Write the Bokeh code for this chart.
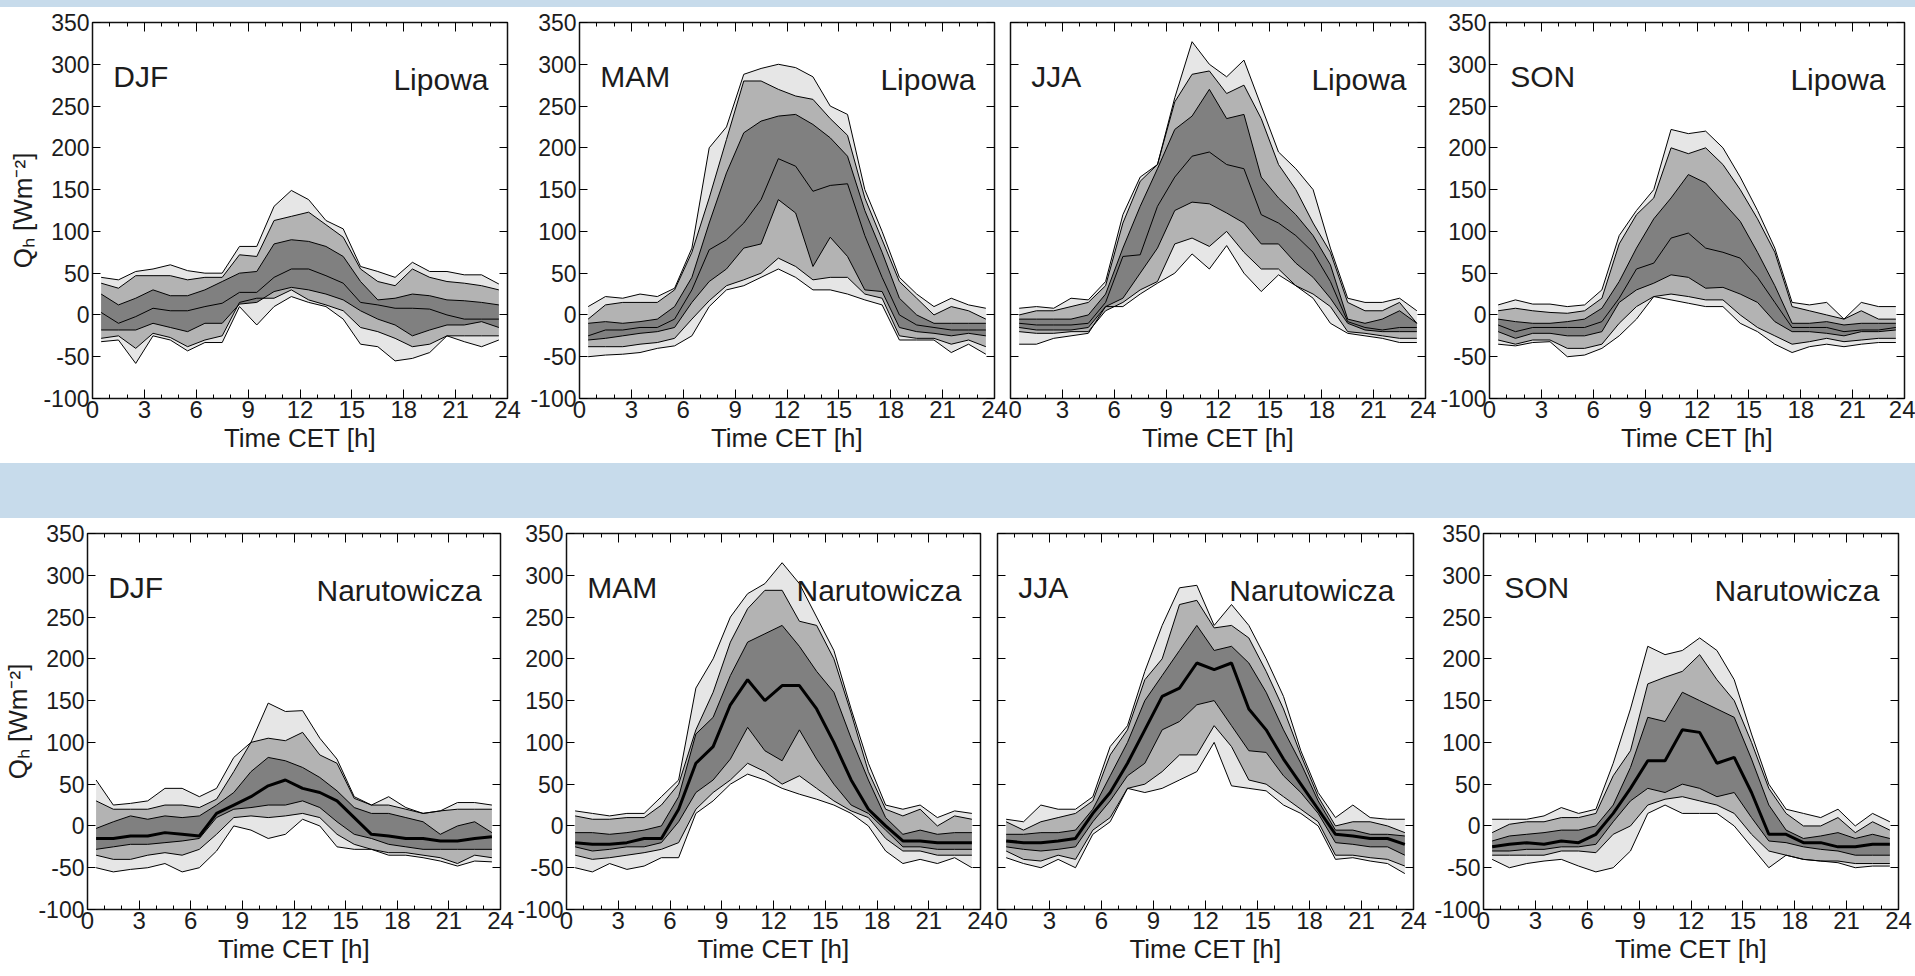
from bokeh.plotting import figure
from bokeh.layouts import row, column
from bokeh.models import Spacer, FixedTicker, LinearAxis, Label, Range1d
from bokeh.embed import file_html
from bokeh.resources import INLINE

# ---------------- data ----------------
hours = [0.5, 1.5, 2.5, 3.5, 4.5, 5.5, 6.5, 7.5, 8.5, 9.5, 10.5, 11.5,
         12.5, 13.5, 14.5, 15.5, 16.5, 17.5, 18.5, 19.5, 20.5, 21.5, 22.5, 23.5]
x_ticks = [0, 3, 6, 9, 12, 15, 18, 21, 24]
y_ticks = [-100, -50, 0, 50, 100, 150, 200, 250, 300, 350]
y_tick_labels = ["-100", "-50", "0", "50", "100", "150", "200", "250", "300", "350"]
seasons = ["DJF", "MAM", "JJA", "SON"]
sites = ["Lipowa", "Narutowicza"]

# Lipowa DJF (q0 lowest envelope ... q6 highest envelope, q3 median)
lip_djf_q6 = [45, 42, 52, 55, 60, 53, 50, 50, 82, 82, 130, 149, 138, 113, 103, 58, 52, 45, 63, 52, 52, 48, 48, 37]
lip_djf_q5 = [38, 32, 47, 47, 47, 42, 45, 45, 72, 70, 113, 118, 123, 108, 93, 55, 40, 35, 55, 45, 40, 38, 35, 30]
lip_djf_q4 = [25, 12, 20, 30, 23, 23, 30, 40, 50, 52, 85, 90, 88, 82, 70, 40, 18, 20, 25, 23, 18, 17, 15, 12]
lip_djf_q3 = [3, -10, -2, 8, 5, 5, 10, 14, 27, 27, 45, 55, 55, 47, 38, 15, 12, 8, 8, 7, 0, -5, -5, -5]
lip_djf_q2 = [-18, -18, -18, -10, -15, -20, -10, -10, 13, 15, 28, 33, 30, 25, 18, 5, -5, -12, -25, -18, -12, -12, -8, -15]
lip_djf_q1 = [-28, -25, -40, -22, -27, -38, -30, -25, 15, 20, 20, 30, 18, 12, 5, -15, -20, -28, -38, -35, -25, -25, -25, -25]
lip_djf_q0 = [-32, -30, -58, -25, -30, -43, -33, -33, 10, -12, 10, 22, 15, 10, -5, -35, -38, -55, -52, -45, -25, -32, -38, -30]

# Lipowa MAM
lip_mam_q6 = [10, 22, 20, 25, 22, 32, 80, 200, 225, 288, 295, 300, 296, 285, 250, 240, 150, 100, 45, 25, 10, 20, 12, 8]
lip_mam_q5 = [-5, 12, 15, 15, 15, 30, 75, 140, 210, 280, 280, 270, 262, 258, 235, 215, 140, 90, 40, 20, 0, 10, 5, -5]
lip_mam_q4 = [-10, -8, -10, -8, -5, 10, 45, 110, 170, 218, 232, 238, 240, 228, 212, 190, 125, 75, 20, 0, -10, -10, -10, -10]
lip_mam_q3 = [-25, -18, -18, -15, -15, -5, 30, 78, 90, 110, 138, 187, 178, 148, 155, 157, 95, 45, 0, -12, -15, -18, -18, -18]
lip_mam_q2 = [-30, -28, -25, -22, -20, -15, 15, 40, 55, 80, 85, 138, 122, 58, 93, 70, 30, 28, -15, -20, -22, -25, -22, -25]
lip_mam_q1 = [-38, -38, -38, -35, -33, -28, -5, 17, 35, 42, 50, 68, 58, 42, 45, 45, 25, 20, -25, -28, -28, -35, -30, -38]
lip_mam_q0 = [-50, -48, -47, -45, -40, -37, -25, 10, 30, 35, 45, 55, 45, 30, 30, 25, 18, 12, -30, -30, -30, -45, -35, -47]

# Lipowa JJA
lip_jja_q6 = [8, 10, 8, 20, 18, 40, 120, 165, 180, 260, 327, 300, 285, 305, 250, 195, 175, 150, 80, 20, 15, 15, 20, 5]
lip_jja_q5 = [0, 5, 5, 10, 15, 35, 110, 160, 180, 255, 288, 292, 265, 275, 235, 180, 150, 110, 75, 15, 5, 5, 15, -10]
lip_jja_q4 = [-5, -5, -5, -5, 0, 25, 80, 130, 175, 222, 238, 270, 235, 240, 165, 140, 120, 95, 60, -5, -10, -5, 5, -10]
lip_jja_q3 = [-10, -12, -12, -12, -10, 15, 70, 72, 130, 165, 190, 195, 180, 175, 120, 110, 95, 75, 40, -8, -15, -18, -15, -15]
lip_jja_q2 = [-15, -18, -18, -18, -15, 10, 20, 50, 80, 125, 135, 133, 122, 110, 85, 85, 62, 45, 20, -10, -18, -20, -20, -20]
lip_jja_q1 = [-20, -22, -22, -20, -20, 5, 15, 30, 40, 85, 92, 82, 100, 75, 55, 55, 35, 25, 10, -20, -22, -25, -28, -28]
lip_jja_q0 = [-35, -35, -28, -25, -22, 10, 10, 25, 38, 50, 73, 55, 83, 50, 28, 48, 35, 20, -10, -22, -25, -28, -33, -33]

# Lipowa SON
lip_son_q6 = [12, 18, 13, 13, 10, 12, 30, 95, 125, 150, 222, 217, 220, 200, 165, 125, 80, 15, 12, 15, -5, 15, 10, 10]
lip_son_q5 = [5, 8, 5, 3, 2, 5, 20, 85, 120, 140, 200, 193, 200, 180, 150, 115, 75, 10, 5, 0, -5, 5, -5, -5]
lip_son_q4 = [-5, -8, -10, -10, -8, -5, 8, 40, 80, 115, 140, 168, 158, 135, 112, 75, 35, -10, -10, -8, -12, -10, -10, -10]
lip_son_q3 = [-12, -20, -15, -15, -15, -15, -8, 20, 55, 62, 92, 98, 80, 75, 68, 45, 15, -15, -15, -15, -20, -18, -18, -15]
lip_son_q2 = [-20, -28, -22, -22, -25, -25, -20, 15, 30, 38, 48, 45, 32, 33, 25, 15, -8, -20, -20, -22, -25, -20, -20, -18]
lip_son_q1 = [-30, -35, -30, -30, -40, -40, -35, -10, 10, 22, 25, 22, 18, 18, 0, -15, -25, -35, -32, -28, -32, -30, -28, -28]
lip_son_q0 = [-35, -37, -33, -32, -50, -48, -40, -25, -5, 22, 18, 14, 10, 10, -10, -20, -35, -45, -38, -35, -38, -35, -33, -33]

# Narutowicza DJF
nar_djf_q6 = [55, 25, 27, 30, 45, 45, 35, 45, 82, 100, 147, 137, 138, 105, 80, 35, 25, 35, 22, 15, 18, 28, 28, 25]
nar_djf_q5 = [30, 20, 20, 20, 25, 25, 22, 32, 65, 100, 105, 102, 112, 85, 75, 33, 25, 25, 20, 15, 18, 20, 20, 20]
nar_djf_q4 = [-3, 5, 12, 8, 12, 10, 12, 25, 40, 65, 82, 78, 70, 58, 42, 22, 15, 15, 10, 5, -10, 0, 5, -8]
nar_djf_q3 = [-15, -15, -12, -12, -8, -10, -12, 15, 25, 35, 48, 55, 45, 40, 30, 10, -10, -12, -15, -15, -18, -18, -15, -13]
nar_djf_q2 = [-28, -25, -22, -22, -20, -18, -15, 10, 20, 22, 25, 25, 30, 22, 5, -10, -15, -22, -25, -28, -28, -28, -28, -28]
nar_djf_q1 = [-35, -40, -40, -35, -32, -35, -28, -10, 10, 12, 10, 12, 15, 10, -10, -22, -28, -32, -32, -35, -38, -45, -35, -38]
nar_djf_q0 = [-50, -55, -52, -50, -45, -55, -50, -30, 0, -5, -15, -10, 8, 0, -25, -28, -28, -35, -35, -38, -42, -48, -42, -43]

# Narutowicza MAM
nar_mam_q6 = [18, 15, 12, 15, 15, 35, 55, 165, 200, 250, 278, 290, 315, 290, 250, 210, 140, 75, 25, 20, 25, 10, 18, 15]
nar_mam_q5 = [12, 8, 8, 10, 10, 25, 50, 115, 160, 220, 260, 282, 282, 245, 240, 200, 135, 65, 20, 12, 20, 0, 12, 8]
nar_mam_q4 = [-8, -8, -10, -8, -5, 0, 35, 110, 130, 180, 220, 230, 240, 215, 185, 160, 105, 55, 10, -10, -5, -10, -8, -8]
nar_mam_q3 = [-20, -22, -22, -20, -15, -15, 20, 75, 95, 145, 175, 150, 168, 168, 140, 100, 55, 20, 0, -18, -18, -20, -20, -20]
nar_mam_q2 = [-25, -30, -28, -25, -25, -20, 5, 40, 55, 80, 118, 90, 78, 115, 80, 50, 25, 15, -5, -25, -25, -28, -28, -28]
nar_mam_q1 = [-35, -40, -38, -35, -32, -28, -20, 20, 40, 55, 75, 65, 50, 60, 45, 30, 18, 10, -15, -30, -30, -35, -35, -35]
nar_mam_q0 = [-50, -55, -45, -52, -48, -38, -38, 15, 30, 50, 62, 55, 45, 38, 32, 25, 15, 0, -30, -45, -40, -45, -38, -50]

# Narutowicza JJA
nar_jja_q6 = [8, 5, 25, 20, 20, 35, 95, 120, 185, 240, 285, 288, 240, 265, 240, 200, 155, 90, 40, 10, 25, 10, 8, 8]
nar_jja_q5 = [5, -5, 5, 10, 15, 30, 85, 115, 175, 200, 265, 270, 237, 240, 225, 185, 140, 85, 35, 0, 5, 5, 0, -8]
nar_jja_q4 = [-10, -10, -8, -8, -5, 20, 60, 100, 150, 180, 210, 240, 210, 215, 195, 160, 115, 75, 30, -5, -5, -10, -10, -12]
nar_jja_q3 = [-18, -20, -20, -18, -15, 15, 40, 75, 115, 155, 165, 195, 187, 195, 140, 115, 80, 50, 20, -10, -12, -15, -15, -22]
nar_jja_q2 = [-25, -28, -30, -28, -25, 5, 30, 60, 75, 115, 125, 145, 150, 120, 90, 88, 60, 40, 15, -20, -22, -25, -25, -35]
nar_jja_q1 = [-30, -40, -42, -35, -40, -5, 10, 45, 50, 65, 85, 85, 120, 95, 55, 50, 35, 20, 5, -35, -35, -38, -40, -48]
nar_jja_q0 = [-38, -45, -50, -40, -50, -10, 5, 45, 40, 45, 55, 65, 100, 48, 45, 42, 25, 15, 0, -40, -38, -42, -45, -57]

# Narutowicza SON
nar_son_q6 = [8, 8, 8, 12, 22, 15, 20, 75, 140, 215, 205, 210, 225, 210, 175, 110, 50, 20, 15, 10, 20, 0, 15, 5]
nar_son_q5 = [-8, 2, 5, 5, 10, 10, 15, 60, 90, 170, 178, 185, 205, 175, 150, 100, 45, 15, 0, 0, 10, -8, 5, -5]
nar_son_q4 = [-18, -12, -10, -8, -5, -5, 0, 25, 70, 130, 125, 160, 150, 140, 130, 80, 25, -5, -15, -12, -8, -15, -10, -15]
nar_son_q3 = [-25, -22, -20, -22, -18, -20, -10, 15, 45, 78, 78, 115, 112, 75, 82, 40, -10, -10, -20, -20, -25, -25, -22, -22]
nar_son_q2 = [-30, -30, -28, -28, -25, -25, -22, 5, 30, 45, 40, 50, 45, 35, 40, 10, -18, -20, -25, -28, -30, -35, -35, -35]
nar_son_q1 = [-35, -35, -35, -35, -30, -30, -32, -10, 0, 25, 32, 35, 30, 25, 15, -10, -30, -35, -40, -42, -42, -45, -45, -45]
nar_son_q0 = [-40, -50, -45, -42, -40, -48, -55, -50, -30, 15, 25, 15, 15, 15, 0, -25, -50, -35, -40, -42, -44, -50, -48, -48]

lipowa = [
    [lip_djf_q0, lip_djf_q1, lip_djf_q2, lip_djf_q3, lip_djf_q4, lip_djf_q5, lip_djf_q6],
    [lip_mam_q0, lip_mam_q1, lip_mam_q2, lip_mam_q3, lip_mam_q4, lip_mam_q5, lip_mam_q6],
    [lip_jja_q0, lip_jja_q1, lip_jja_q2, lip_jja_q3, lip_jja_q4, lip_jja_q5, lip_jja_q6],
    [lip_son_q0, lip_son_q1, lip_son_q2, lip_son_q3, lip_son_q4, lip_son_q5, lip_son_q6],
]
narutowicza = [
    [nar_djf_q0, nar_djf_q1, nar_djf_q2, nar_djf_q3, nar_djf_q4, nar_djf_q5, nar_djf_q6],
    [nar_mam_q0, nar_mam_q1, nar_mam_q2, nar_mam_q3, nar_mam_q4, nar_mam_q5, nar_mam_q6],
    [nar_jja_q0, nar_jja_q1, nar_jja_q2, nar_jja_q3, nar_jja_q4, nar_jja_q5, nar_jja_q6],
    [nar_son_q0, nar_son_q1, nar_son_q2, nar_son_q3, nar_son_q4, nar_son_q5, nar_son_q6],
]

# ---------------- styling ----------------
FONT = "Liberation Sans"
BLUE = "#c7dbeb"
LIGHT = "#e6e6e6"
MID = "#b3b3b3"
DARK = "#808080"
TXT = "#1c1c1c"

# (width, border_left, border_right) per panel
top_geom = [(521, 92, 14), (487, 58, 14), (428, 2, 11), (479, 53, 11)]
bot_geom = [(514, 87, 14), (480, 50, 14), (436, 3, 17), (485, 53, 17)]


def blank_axis(ax):
    ax.major_label_text_font_size = "0px"
    ax.major_label_standoff = 0
    ax.major_label_overrides = {t: "" for t in (x_ticks + y_ticks)}


def make_panel(qs, season, site, geom, height, bt, bb, ylabels, ytitle, thick):
    w, bl, br = geom
    p = figure(width=w, height=height, x_range=Range1d(0, 24), y_range=Range1d(-100, 350),
               output_backend="svg", toolbar_location=None,
               min_border_left=bl, min_border_right=br, min_border_top=bt, min_border_bottom=bb,
               background_fill_color="white", border_fill_color="white")
    p.xgrid.visible = False
    p.ygrid.visible = False
    p.outline_line_color = "#111111"
    p.outline_line_width = 1.5

    q0, q1, q2, q3, q4, q5, q6 = qs
    p.varea(x=hours, y1=q0, y2=q6, fill_color=LIGHT)
    p.varea(x=hours, y1=q1, y2=q5, fill_color=MID)
    p.varea(x=hours, y1=q2, y2=q4, fill_color=DARK)
    for q in (q0, q1, q2, q4, q5, q6):
        p.line(hours, q, line_color="#000000", line_width=1)
    p.line(hours, q3, line_color="#000000", line_width=3 if thick else 1)

    xt = FixedTicker(ticks=x_ticks, minor_ticks=list(range(25)))
    yt = FixedTicker(ticks=y_ticks, minor_ticks=[])

    for ax in p.xaxis:
        ax.ticker = xt
        ax.major_tick_in = 9
        ax.major_tick_out = 0
        ax.minor_tick_in = 4
        ax.minor_tick_out = 0
        ax.axis_line_color = "#111111"
        ax.major_label_text_font = FONT
        ax.major_label_text_font_size = "24px"
        ax.major_label_text_color = TXT
        ax.major_label_standoff = 2
        ax.axis_label = "Time CET [h]"
        ax.axis_label_text_font = FONT
        ax.axis_label_text_font_size = "26px"
        ax.axis_label_text_font_style = "normal"
        ax.axis_label_text_color = TXT
        ax.axis_label_standoff = 2

    for ax in p.yaxis:
        ax.ticker = yt
        ax.major_tick_in = 8
        ax.major_tick_out = 0
        ax.minor_tick_in = 0
        ax.minor_tick_out = 0
        ax.axis_line_color = "#111111"
        ax.major_label_text_font = FONT
        ax.major_label_text_font_size = "23px"
        ax.major_label_text_color = TXT
        ax.major_label_standoff = 3
        ax.major_label_overrides = dict(zip(y_ticks, y_tick_labels))
        if not ylabels:
            blank_axis(ax)
        if ytitle:
            ax.axis_label = "Qₕ [Wm⁻²]"
            ax.axis_label_text_font = FONT
            ax.axis_label_text_font_size = "26px"
            ax.axis_label_text_font_style = "normal"
            ax.axis_label_text_color = TXT
            ax.axis_label_standoff = 2

    top = LinearAxis(ticker=xt, major_tick_in=9, major_tick_out=0, minor_tick_in=4, minor_tick_out=0,
                     axis_line_color="#111111")
    blank_axis(top)
    p.add_layout(top, "above")
    right = LinearAxis(ticker=yt, major_tick_in=8, major_tick_out=0, minor_tick_in=0, minor_tick_out=0,
                       axis_line_color="#111111")
    blank_axis(right)
    p.add_layout(right, "right")

    p.add_layout(Label(x=1.2, y=285, text=season, text_font=FONT, text_font_size="30px",
                       text_color=TXT, text_baseline="alphabetic", text_align="left"))
    p.add_layout(Label(x=22.9, y=282, text=site, text_font=FONT, text_font_size="30px",
                       text_color=TXT, text_baseline="alphabetic", text_align="right"))
    return p


top_figs = []
for i in range(4):
    top_figs.append(make_panel(lipowa[i], seasons[i], sites[0], top_geom[i], 456, 15, 65,
                               ylabels=(i != 2), ytitle=(i == 0), thick=False))
bot_figs = []
for i in range(4):
    bot_figs.append(make_panel(narutowicza[i], seasons[i], sites[1], bot_geom[i], 458, 15, 67,
                               ylabels=(i != 2), ytitle=(i == 0), thick=True))

layout = column(
    Spacer(width=1915, height=7, styles={"background-color": BLUE}),
    row(*top_figs, spacing=0, styles={"background-color": "white"}),
    Spacer(width=1915, height=55, styles={"background-color": BLUE}),
    row(*bot_figs, spacing=0, styles={"background-color": "white"}),
    spacing=0,
    styles={"background-color": BLUE},
)

open("out.html", "w").write(file_html(layout, INLINE))
